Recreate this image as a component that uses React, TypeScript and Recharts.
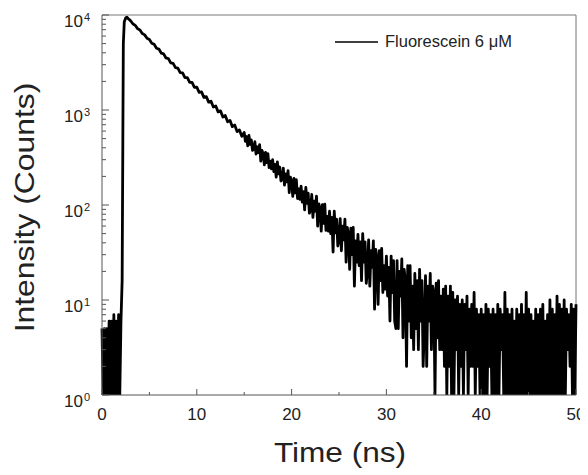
import { Customized, Line, LineChart, ReferenceLine, XAxis, YAxis } from "recharts";

// counts before the pulse, t = 0 .. 2.0 ns, step 0.125
const baseCounts = [5, 1, 5, 1, 5, 1, 6, 1, 6, 1, 7, 1, 6, 1, 7, 1, 6];
// rising edge
const riseTimes = [2.125, 2.2, 2.25, 2.35, 2.5, 2.625];
const riseCounts = [16, 500, 5000, 8500, 9300, 9500];
// clean decay, t = 2.75 .. 14.75 ns, step 0.25
const decayCounts = [
  9190, 8720, 8090, 7790, 7190, 6950, 6390, 6180, 5680, 5510, 5040, 4920, 4470,
  4380, 3970, 3900, 3530, 3480, 3130, 3100, 2790, 2760, 2470, 2460, 2190, 2190,
  1950, 1950, 1730, 1740, 1530, 1550, 1360, 1385, 1210, 1235, 1075, 1100, 955,
  980, 845, 875, 752, 778, 668, 694, 592, 616, 528,
];
// noisy tail, t = 15 .. 50 ns, step 0.125
const tailCounts = [
  580, 469, 526, 419, 539, 434, 484, 377,
  385, 464, 343, 410, 356, 431, 290, 376,
  347, 265, 357, 279, 348, 248, 289, 240,
  300, 225, 268, 197, 284, 213, 251, 179,
  187, 244, 162, 212, 175, 230, 135, 196,
  177, 123, 190, 134, 185, 117, 148, 115,
  158, 107, 138, 89, 153, 104, 133, 82,
  89, 129, 74, 110, 86, 124, 60, 103,
  92, 53, 101, 64, 102, 54, 76, 53,
  86, 50, 74, 32, 86, 51, 71, 37,
  43, 72, 33, 60, 43, 71, 25, 58,
  49, 21, 57, 30, 58, 14, 42, 25,
  49, 23, 41, 16, 50, 25, 41, 15,
  20, 43, 14, 33, 22, 42, 8, 34,
  27, 9, 33, 16, 35, 12, 23, 13,
  29, 11, 22, 6, 29, 12, 26, 6,
  5, 26, 5, 20, 11, 27, 4, 21,
  16, 2, 23, 6, 23, 4, 14, 3,
  19, 5, 16, 3, 21, 6, 16, 2,
  5, 18, 2, 14, 6, 19, 3, 14,
  12, 1, 15, 4, 16, 3, 11, 3,
  13, 2, 14, 1, 11, 2, 14, 1,
  12, 1, 10, 3, 11, 1, 9, 2,
  10, 1, 9, 3, 11, 1, 8, 2,
  9, 2, 12, 1, 8, 2, 7, 1,
  8, 1, 7, 1, 9, 1, 8, 2,
  7, 1, 8, 1, 7, 1, 9, 1,
  8, 3, 7, 1, 12, 1, 8, 1,
  7, 1, 8, 1, 6, 1, 8, 1,
  7, 1, 9, 1, 7, 1, 12, 1,
  8, 1, 7, 1, 6, 1, 8, 1,
  7, 1, 8, 1, 9, 1, 6, 1,
  7, 1, 10, 1, 8, 1, 7, 1,
  11, 1, 9, 1, 8, 1, 10, 1,
  8, 3, 7, 2, 9, 1, 8, 1,
  9,
];

const xTicks = [0, 5, 10, 15, 20, 25, 30, 35, 40, 45, 50];
const yTicks = [
  1, 2, 3, 4, 5, 6, 7, 8, 9, 10, 20, 30, 40, 50, 60, 70, 80, 90, 100, 200, 300,
  400, 500, 600, 700, 800, 900, 1000, 2000, 3000, 4000, 5000, 6000, 7000, 8000,
  9000, 10000,
];
const seriesName = "Fluorescein 6 \u03bcM";

const data = [
  ...baseCounts.map((c, i) => ({ t: i * 0.125, counts: c })),
  ...riseCounts.map((c, i) => ({ t: riseTimes[i], counts: c })),
  ...decayCounts.map((c, i) => ({ t: 2.75 + i * 0.25, counts: c })),
  ...tailCounts.map((c, i) => ({ t: 15 + i * 0.125, counts: c })),
];

const font = "'Liberation Sans', Arial, sans-serif";
const axisColor = "#555";

const XTick = (props: any) => {
  const { x, y, payload } = props;
  const major = payload.value % 10 === 0;
  return (
    <g>
      <line x1={x} x2={x} y1={y} y2={y - (major ? 6 : 3)} stroke={axisColor} />
      {major && (
        <text x={x} y={y + 25} textAnchor="middle" fontSize={17} fill="#222" fontFamily={font}>
          {payload.value}
        </text>
      )}
    </g>
  );
};

const YTick = (props: any) => {
  const { x, y, payload } = props;
  const exp = Math.log10(payload.value);
  const major = Math.abs(exp - Math.round(exp)) < 1e-9;
  return (
    <g>
      <line x1={x} x2={x + (major ? 7 : 4)} y1={y} y2={y} stroke={axisColor} />
      {major && (
        <text x={x - 12} y={y + 12} textAnchor="end" fontSize={17} fill="#222" fontFamily={font}>
          10
          <tspan dx={1} dy={-6} fontSize={11}>
            {Math.round(exp)}
          </tspan>
        </text>
      )}
    </g>
  );
};

const LegendBox = () => (
  <g>
    <line x1={327} x2={370} y1={34} y2={34} stroke="#000" strokeWidth={1.5} />
    <text x={377} y={39} fontSize={16.5} fill="#222" fontFamily={font}>
      {seriesName}
    </text>
  </g>
);

export default function App() {
  return (
    <LineChart
      width={580}
      height={467}
      data={data}
      margin={{ top: 7, right: 12, bottom: 0, left: 0 }}
    >
      <XAxis
        dataKey="t"
        type="number"
        domain={[0, 50]}
        ticks={xTicks}
        interval={0}
        tickSize={0}
        tickMargin={0}
        tick={<XTick />}
        height={80}
        axisLine={{ stroke: axisColor }}
        label={{
          content: () => (
            <text
              transform="translate(332,454) scale(1.17,1)"
              textAnchor="middle"
              fontSize={27}
              fill="#222"
              fontFamily={font}
            >
              Time (ns)
            </text>
          ),
        }}
      />
      <YAxis
        scale="log"
        domain={[1, 10000]}
        allowDataOverflow
        ticks={yTicks}
        interval={0}
        tickSize={0}
        tickMargin={0}
        tick={<YTick />}
        width={94}
        axisLine={{ stroke: axisColor }}
        label={{
          content: () => (
            <text
              transform="translate(26,199.5) rotate(-90) scale(1.18,1)"
              textAnchor="middle"
              fontSize={27}
              fill="#222"
              fontFamily={font}
            >
              Intensity (Counts)
            </text>
          ),
        }}
      />
      <ReferenceLine y={10000} stroke="#777" />
      <ReferenceLine x={50} stroke="#777" />
      <Line
        type="linear"
        dataKey="counts"
        name={seriesName}
        stroke="#000"
        strokeWidth={2.8}
        strokeLinejoin="round"
        dot={false}
        isAnimationActive={false}
      />
      <Customized component={LegendBox} />
    </LineChart>
  );
}
